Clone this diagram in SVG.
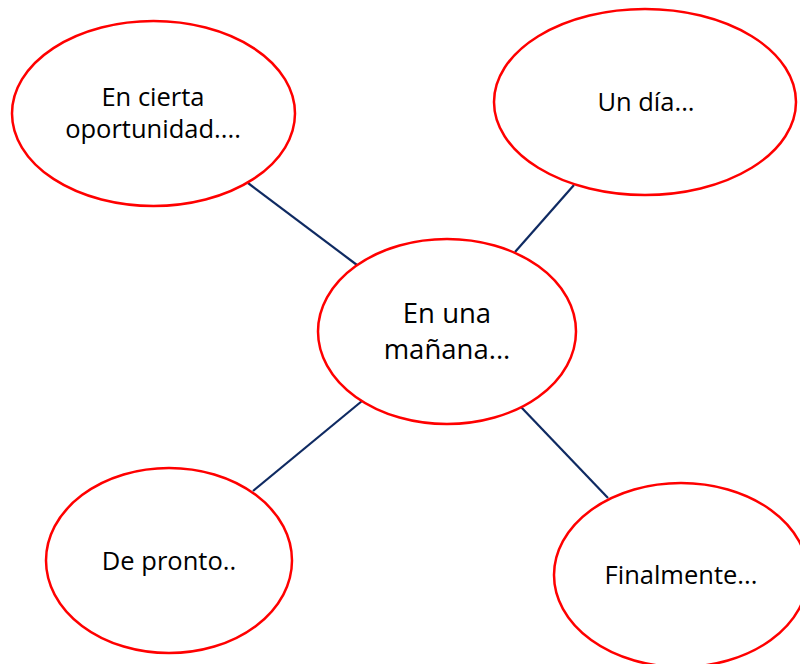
<svg xmlns="http://www.w3.org/2000/svg" width="800" height="664" viewBox="0 0 800 664">
<style>
.node ellipse{fill:#fff;stroke:#ff0000;stroke-width:2.5}
.node text{font-family:"Open Sans","Noto Sans",sans-serif;font-size:25.5px;fill:#000;text-anchor:middle}
.node text.big{font-size:27.5px}
.conn line{stroke:#0f2a62;stroke-width:2.2}
</style>
<rect width="800" height="664" fill="#fff"/>
<g id="connectors" class="conn">
<line x1="248" y1="183" x2="357" y2="265"/>
<line x1="574" y1="185" x2="515" y2="252"/>
<line x1="362" y1="401" x2="253" y2="491"/>
<line x1="521" y1="407" x2="608" y2="498"/>
</g>
<g id="node-cierta" class="node">
<ellipse cx="153.5" cy="113.5" rx="141.5" ry="92.5"/>
<text x="153" y="106">En cierta</text>
<text x="153" y="138">oportunidad....</text>
</g>
<g id="node-undia" class="node">
<ellipse cx="645" cy="102" rx="151" ry="93"/>
<text x="646" y="111">Un día...</text>
</g>
<g id="node-manana" class="node">
<ellipse cx="447" cy="331.5" rx="129" ry="92.5"/>
<text class="big" x="447" y="323">En una</text>
<text class="big" x="447" y="359">mañana...</text>
</g>
<g id="node-pronto" class="node">
<ellipse cx="169" cy="560.5" rx="123" ry="92.5"/>
<text x="169" y="570">De pronto..</text>
</g>
<g id="node-final" class="node">
<ellipse cx="681" cy="575" rx="127" ry="92"/>
<text x="681" y="584">Finalmente...</text>
</g>
</svg>
